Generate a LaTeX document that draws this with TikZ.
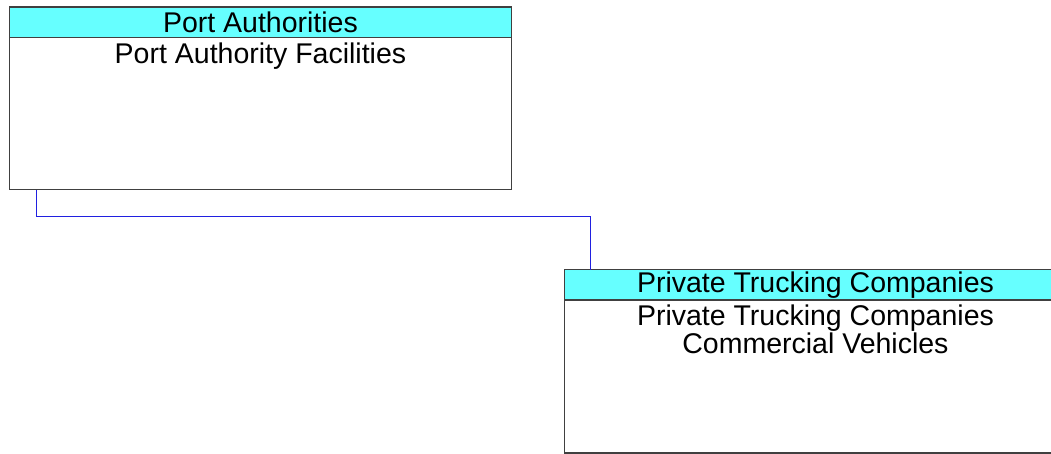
\documentclass[tikz,border=0pt]{standalone}
\usepackage{fontspec}
\setmainfont{Liberation Sans}
\usetikzlibrary{positioning}
\definecolor{headcyan}{HTML}{66FFFF}
\definecolor{linkblue}{HTML}{2020E0}
\definecolor{edgegray}{HTML}{404040}
\tikzstyle{entity} = [rectangle, anchor=north west, inner sep=0pt,
minimum width=501.5pt, fill=white]
\tikzstyle{header} = [rectangle, anchor=north west, inner sep=0pt,
minimum width=501.5pt, minimum height=30pt, fill=headcyan,
font=\fontsize{28.5}{28}\selectfont]
\tikzstyle{outline} = [draw=edgegray, line width=1.2pt]
\tikzstyle{bodytext} = [inner sep=0pt, align=center,
font=\fontsize{28.5}{28}\selectfont]
\tikzstyle{link} = [draw=linkblue, line width=0.8pt]

\begin{document}
\begin{tikzpicture}[x=1pt, y=-1pt]
\useasboundingbox (0,0) rectangle (1051,454);

% Boxes
\node[entity, minimum height=182.5pt] (ports) at (9.5,7) {};
\node[header] (portshead) at (9.5,7) {Port Authorities};
\node[bodytext, below=5pt of portshead] (portsbody) {Port Authority Facilities};

\node[entity, minimum height=183pt] (trucks) at (564.5,269.5) {};
\node[header] (truckshead) at (564.5,269.5) {Private Trucking Companies};
\node[bodytext, below=5pt of truckshead] (trucksbody) {Private Trucking Companies\\Commercial Vehicles};

% Outlines
\draw[outline] (ports.north west) rectangle (ports.south east);
\draw[outline] (portshead.south west) -- (portshead.south east);
\draw[outline] (trucks.north west) rectangle (trucks.south east);
\draw[outline] (truckshead.south west) -- (truckshead.south east);

% Connector
\coordinate (bend1) at (36,216);
\coordinate (bend2) at (590,216);
\draw[link] (ports.south west -| bend1) -- (bend1) -- (bend2) -- (trucks.north west -| bend2);

\end{tikzpicture}
\end{document}
